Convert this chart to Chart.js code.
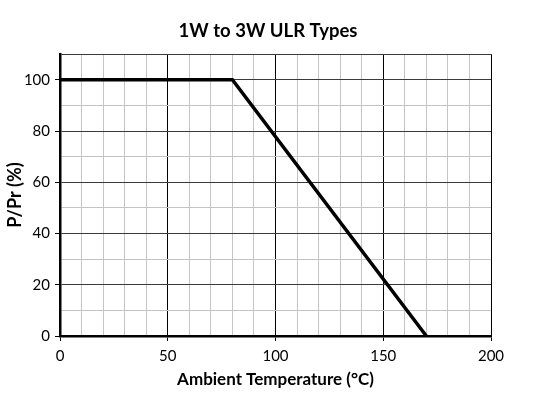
<!doctype html>
<html>
<head>
<meta charset="UTF-8">
<title>1W to 3W ULR Types</title>
<style>
  html, body { margin: 0; padding: 0; background: #fff; }
  #box { width: 544px; height: 403px; }
</style>
</head>
<body>
<div id="box"><canvas id="myChart"></canvas></div>
<script src="https://cdn.jsdelivr.net/npm/chart.js@4.4.1/dist/chart.umd.min.js"></script>
<script>
// derating curve points
var temps = [0, 80, 170];
var power = [100, 100, 0];

var xTickLabels = [0, 50, 100, 150, 200];
var yTickLabels = [0, 20, 40, 60, 80, 100];

var points = temps.map(function(t, i){ return {x: t, y: power[i]}; });

var fontFam = "Lato, 'Open Sans', sans-serif";

// nudge the title so it sits over the plot like the original
var titleShift = {
  id: 'titleShift',
  afterLayout: function(chart){
    if (chart.titleBlock) { chart.titleBlock.left = 45; }
  }
};

var ctx = document.getElementById('myChart');
var myChart = new Chart(ctx, {
  type: 'line',
  data: {
    datasets: [{
      data: points,
      borderColor: '#000',
      borderWidth: 3.5,
      pointRadius: 0,
      tension: 0,
      fill: false
    }]
  },
  plugins: [titleShift],
  options: {
    responsive: true,
    maintainAspectRatio: false,
    animation: false,
    layout: { padding: { left: 0, right: 53, top: 0, bottom: 0 } },
    plugins: {
      legend: { display: false },
      tooltip: { enabled: false },
      title: {
        display: true,
        text: '1W to 3W ULR Types',
        color: '#000',
        font: { family: fontFam, size: 18.5, weight: 'bold' },
        padding: { top: 20, bottom: 12 }
      }
    },
    scales: {
      x: {
        type: 'linear',
        min: 0, max: 200,
        afterFit: function(s){ s.height = 67; },
        ticks: {
          stepSize: 10,
          color: '#000',
          font: { family: fontFam, size: 15 },
          padding: 6,
          maxRotation: 0,
          autoSkip: false,
          callback: function(v){ return xTickLabels.indexOf(v) >= 0 ? String(v) : ''; }
        },
        grid: {
          color: function(c){ return c.tick && c.tick.value % 50 === 0 ? '#000' : '#c4c4c4'; },
          lineWidth: 1,
          tickLength: 5,
          tickColor: function(c){ return c.tick && c.tick.value % 50 === 0 ? '#000' : 'rgba(0,0,0,0)'; }
        },
        border: { color: '#000', width: 2.5 },
        title: {
          display: true,
          text: 'Ambient Temperature (°C)',
          color: '#000',
          font: { family: fontFam, size: 17, weight: 'bold' },
          padding: { top: 4, bottom: 13 }
        }
      },
      y: {
        min: 0, max: 110,
        afterFit: function(s){ s.width = 60; },
        ticks: {
          stepSize: 10,
          color: '#000',
          font: { family: fontFam, size: 15 },
          padding: 5,
          autoSkip: false,
          callback: function(v){ return yTickLabels.indexOf(v) >= 0 ? String(v) : ''; }
        },
        grid: {
          color: function(c){ return c.tick && (c.tick.value % 20 === 0 || c.tick.value === 110) ? '#3a3a3a' : '#c4c4c4'; },
          lineWidth: 1,
          tickLength: 5,
          tickColor: function(c){ return c.tick && yTickLabels.indexOf(c.tick.value) >= 0 ? '#000' : 'rgba(0,0,0,0)'; }
        },
        border: { color: '#000', width: 2.5 },
        title: {
          display: true,
          text: 'P/Pr (%)',
          color: '#000',
          font: { family: fontFam, size: 18, weight: 'bold' },
          padding: { top: 4, bottom: 0 }
        }
      }
    }
  }
});
</script>
</body>
</html>
